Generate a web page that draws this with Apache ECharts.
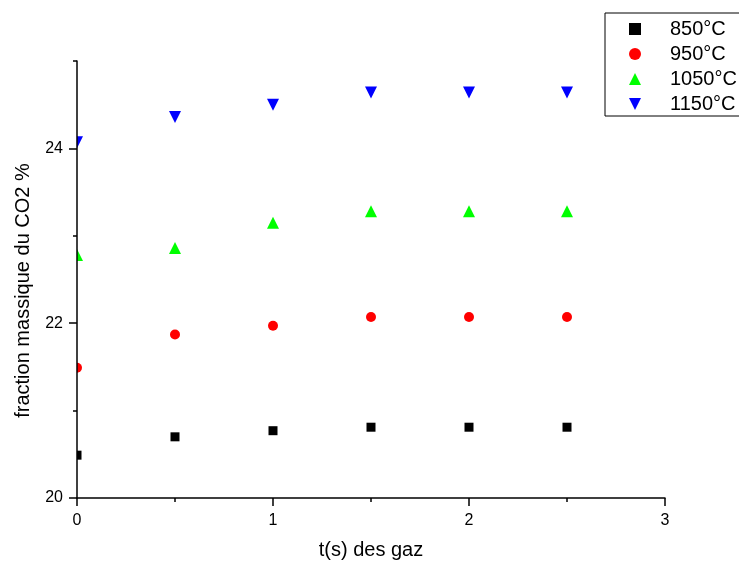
<!DOCTYPE html>
<html>
<head>
<meta charset="utf-8">
<script src="https://cdn.jsdelivr.net/npm/echarts@6/dist/echarts.min.js"></script>
<style>html,body{margin:0;padding:0;background:#fff}#c{width:739px;height:563px}</style>
</head>
<body>
<div id="c"></div>
<script>
const times = [0, 0.5, 1, 1.5, 2, 2.5];
const seriesNames = ['850°C', '950°C', '1050°C', '1150°C'];
const v850 = [20.49, 20.70, 20.77, 20.81, 20.81, 20.81];
const v950 = [21.49, 21.87, 21.97, 22.07, 22.07, 22.07];
const v1050 = [22.78, 22.86, 23.15, 23.28, 23.28, 23.28];
const v1150 = [24.07, 24.36, 24.50, 24.64, 24.64, 24.64];
const yMajorLabels = [20, 22, 24];
const yMinorTicks = [21, 23, 25];

const FONT = 'Liberation Sans, Arial, sans-serif';
const GRID_LEFT = 77;
const DOWN_TRIANGLE = 'path://M0,0 L10,0 L5,10 Z';

function pts(vals) { return times.map((t, i) => [t, vals[i]]); }

const styles = [
  { symbol: 'rect', size: 9, color: '#000000', rot: 0, icon: 'rect' },
  { symbol: 'circle', size: 10, color: '#ff0000', rot: 0, icon: 'circle' },
  { symbol: 'triangle', size: 12, color: '#00ff00', rot: 0, icon: 'triangle' },
  { symbol: 'triangle', size: 12, color: '#0000ff', rot: 180, icon: DOWN_TRIANGLE }
];
const allVals = [v850, v950, v1050, v1150];

const chart = echarts.init(document.getElementById('c'), null, { renderer: 'canvas' });
chart.setOption({
  animation: false,
  backgroundColor: '#ffffff',
  grid: { left: GRID_LEFT, right: 74, top: 61, bottom: 65, containLabel: false, outerBoundsMode: 'none' },
  graphic: [{
    type: 'rect', left: 0, top: 0, z: 5, silent: true,
    shape: { width: GRID_LEFT, height: 563 },
    style: { fill: '#ffffff' }
  }],
  legend: {
    orient: 'vertical', left: 605, top: 13,
    data: seriesNames.map((n, k) => ({ name: n, icon: styles[k].icon })),
    borderColor: '#000', borderWidth: 1, borderRadius: 0,
    padding: [6, 20, 2, 24],
    itemWidth: 12, itemHeight: 12, itemGap: 5,
    textStyle: { fontFamily: FONT, fontSize: 20, lineHeight: 20, color: '#000', padding: [0, 0, 0, 24] }
  },
  xAxis: {
    type: 'value', min: 0, max: 3, interval: 1, z: 10,
    name: 't(s) des gaz', nameLocation: 'middle', nameGap: 42,
    nameTextStyle: { fontFamily: FONT, fontSize: 20, color: '#000' },
    axisLine: { lineStyle: { color: '#000', width: 1.5 } },
    axisTick: { inside: false, length: 8, lineStyle: { color: '#000', width: 1.5 } },
    minorTick: { show: true, splitNumber: 2, length: 4, lineStyle: { color: '#000', width: 1.5 } },
    axisLabel: { fontFamily: FONT, fontSize: 16, color: '#000', margin: 15 },
    splitLine: { show: false }
  },
  yAxis: [{
    type: 'value', min: 20, max: 25, interval: 1, z: 10,
    name: 'fraction massique du CO2 %', nameLocation: 'middle', nameGap: 44, nameRotate: 90,
    nameTextStyle: { fontFamily: FONT, fontSize: 20, color: '#000', padding: [0, 22, 0, 0] },
    axisLine: { show: true, lineStyle: { color: '#000', width: 1.5 } },
    axisTick: { show: true, inside: false, length: 8, customValues: yMajorLabels, lineStyle: { color: '#000', width: 1.5 } },
    axisLabel: { fontFamily: FONT, fontSize: 16, color: '#000', margin: 14, customValues: yMajorLabels },
    splitLine: { show: false }
  }, {
    type: 'value', min: 20, max: 25, interval: 1, position: 'left', offset: 0, z: 10,
    axisLine: { show: false },
    axisTick: { show: true, inside: false, length: 4, customValues: yMinorTicks, lineStyle: { color: '#000', width: 1.5 } },
    axisLabel: { show: false },
    splitLine: { show: false }
  }],
  series: seriesNames.map((name, k) => ({
    name: name, type: 'scatter', yAxisIndex: 0, z: 2,
    symbol: styles[k].symbol, symbolSize: styles[k].size, symbolRotate: styles[k].rot,
    itemStyle: { color: styles[k].color, opacity: 1 },
    data: pts(allVals[k])
  }))
});
</script>
</body>
</html>
